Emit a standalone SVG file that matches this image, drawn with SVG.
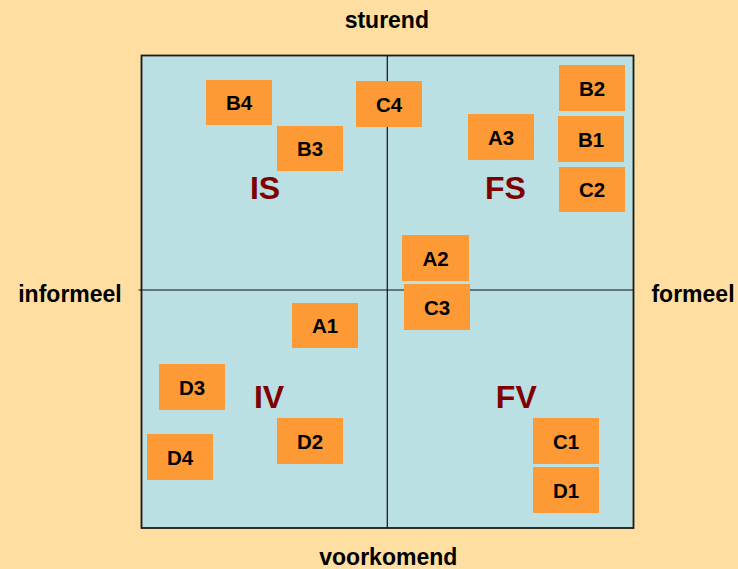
<svg xmlns="http://www.w3.org/2000/svg" width="738" height="569" viewBox="0 0 738 569">
  <style>
    .node rect { fill: #FD9A36; stroke: none; }
    .node text { font-family: "Liberation Sans", Arial, sans-serif; font-weight: bold; font-size: 20.5px; fill: #000; text-anchor: middle; }
    .axis { font-family: "Liberation Sans", Arial, sans-serif; font-weight: bold; font-size: 23px; fill: #000; text-anchor: middle; }
    .quad { font-family: "Liberation Sans", Arial, sans-serif; font-weight: bold; font-size: 32px; fill: #7F0000; text-anchor: middle; }
    .line { stroke: #111; stroke-width: 1.2; fill: none; }
  </style>
  <rect x="0" y="0" width="738" height="569" fill="#FEDFA1"/>
  <rect id="field" x="141.5" y="55.5" width="492" height="472.5" fill="#BAE0E3" stroke="#1a1a1a" stroke-width="1.8"/>
  <g id="connectors">
    <line class="line" x1="387.3" y1="55.5" x2="387.3" y2="528"/>
    <line class="line" x1="138.5" y1="290" x2="633.5" y2="290"/>
  </g>
  <g id="labels">
    <text class="axis" x="386.8" y="27.7">sturend</text>
    <text class="axis" x="70" y="301.7">informeel</text>
    <text class="axis" x="693" y="301.7">formeel</text>
    <text class="axis" x="388.3" y="565">voorkomend</text>
    <text class="quad" x="265" y="199.3">IS</text>
    <text class="quad" x="505.5" y="199.3">FS</text>
    <text class="quad" x="269" y="408.3">IV</text>
    <text class="quad" x="516.3" y="408.3">FV</text>
  </g>
  <g id="B4" class="node"><rect x="206" y="80" width="66" height="45"/><text x="239" y="110">B4</text></g>
  <g id="C4" class="node"><rect x="356" y="81" width="66" height="46"/><text x="389" y="111.5">C4</text></g>
  <g id="B3" class="node"><rect x="277" y="126" width="66" height="45"/><text x="310" y="156">B3</text></g>
  <g id="B2" class="node"><rect x="559" y="65" width="66" height="46"/><text x="592" y="95.5">B2</text></g>
  <g id="A3" class="node"><rect x="468" y="114" width="66" height="46"/><text x="501" y="144.5">A3</text></g>
  <g id="B1" class="node"><rect x="558" y="116" width="66" height="46"/><text x="591" y="146.5">B1</text></g>
  <g id="C2" class="node"><rect x="559" y="167" width="66" height="45"/><text x="592" y="197">C2</text></g>
  <g id="A2" class="node"><rect x="402" y="235" width="67" height="46"/><text x="435.5" y="265.5">A2</text></g>
  <g id="C3" class="node"><rect x="404" y="284" width="66" height="46"/><text x="437" y="314.5">C3</text></g>
  <g id="A1" class="node"><rect x="292" y="303" width="66" height="45"/><text x="325" y="333">A1</text></g>
  <g id="D3" class="node"><rect x="159" y="364" width="66" height="46"/><text x="192" y="394.5">D3</text></g>
  <g id="D4" class="node"><rect x="147" y="434" width="66" height="46"/><text x="180" y="464.5">D4</text></g>
  <g id="D2" class="node"><rect x="277" y="418" width="66" height="46"/><text x="310" y="448.5">D2</text></g>
  <g id="C1" class="node"><rect x="533" y="418" width="66" height="46"/><text x="566" y="448.5">C1</text></g>
  <g id="D1" class="node"><rect x="533" y="467" width="66" height="46"/><text x="566" y="497.5">D1</text></g>
</svg>
